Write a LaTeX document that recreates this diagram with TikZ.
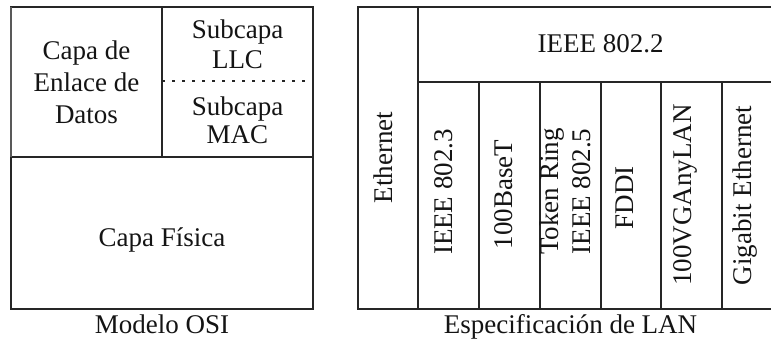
\documentclass[tikz,border=0pt]{standalone}
\usepackage{fontspec}
\setmainfont{Liberation Serif}
\begin{document}
\begin{tikzpicture}[x=1pt,y=-1pt,
  frame/.style={line width=1.5pt, draw=black!85},
  lbl/.style={font=\fontsize{27}{31}\selectfont, text=black!92, inner sep=0pt, align=center},
  vlbl/.style={lbl, rotate=90}]
\useasboundingbox (0,0) rectangle (771,342);

% OSI model block
\draw[frame] (11,7) rectangle (313,309);
\draw[frame] (11,157) -- (313,157);
\draw[frame] (162,7) -- (162,157);
\draw[frame, line width=1.3pt, dash pattern=on 3pt off 7pt] (162,81) -- (313,81);
\draw[line width=2.4pt, draw=black!65] (11,7) -- (11,157);

\node[lbl, font=\fontsize{27}{32}\selectfont] (enlace) at (86.5,82) {Capa de\\Enlace de\\Datos};
\node[lbl, font=\fontsize{27}{30}\selectfont] (llc) at (237.5,44) {Subcapa\\LLC};
\node[lbl, font=\fontsize{27}{28}\selectfont] (mac) at (237.5,120) {Subcapa\\MAC};
\node[lbl, anchor=base] (fisica) at (162,246) {Capa Física};
\node[lbl, anchor=base] (osi) at (162,333) {Modelo OSI};

% LAN specification block
\draw[frame] (771,7) -- (358,7) -- (358,309) -- (771,309);
\draw[frame] (418,7) -- (418,309);
\draw[frame] (418,82) -- (771,82);
\foreach \x in {479,540,601,661,722}
  \draw[frame] (\x,82) -- (\x,309);

\node[lbl, anchor=base] (llc2) at (600.5,53) {IEEE 802.2};
\node[vlbl, anchor=base] (eth) at (392,157.5) {Ethernet};
\node[vlbl, anchor=base] (e3) at (452,192) {IEEE 802.3};
\node[vlbl, anchor=base] (bt) at (512,194.5) {100BaseT};
\node[vlbl, font=\fontsize{27}{32}\selectfont] (tr) at (565,191.5) {Token Ring\\IEEE 802.5};
\node[vlbl, anchor=base] (fddi) at (633,198) {FDDI};
\node[vlbl, anchor=base] (vg) at (691,195) {100VGAnyLAN};
\node[vlbl, anchor=base] (gig) at (751,195.5) {Gigabit Ethernet};
\node[lbl, anchor=base] (lan) at (570.5,333) {Especificación de LAN};
\end{tikzpicture}
\end{document}
